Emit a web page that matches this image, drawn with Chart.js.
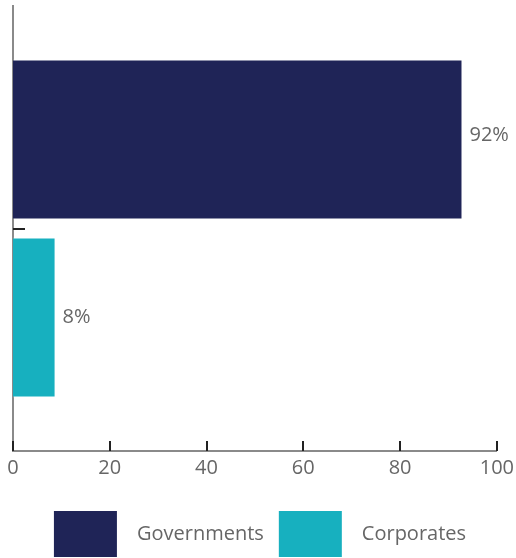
<!DOCTYPE html>
<html>
<head>
<meta charset="utf-8">
<script src="https://cdn.jsdelivr.net/npm/chart.js@4/dist/chart.umd.min.js"></script>
<style>
  html, body { margin: 0; padding: 0; background: #fff; }
  #wrap { width: 516px; height: 558px; }
</style>
</head>
<body>
<div id="wrap"><canvas id="chart"></canvas></div>
<script>
'use strict';

// данные
const categories = [''];
const seriesNames = ['Governments', 'Corporates'];
const seriesValues = [[92.9], [8.8]];
const valueLabels = ['92%', '8%'];
const seriesColors = ['#1f2457', '#17b0bf'];
const xTicks = [0, 20, 40, 60, 80, 100];

const FONT = "'Open Sans', 'Noto Sans', sans-serif";

// подписи значений справа от столбцов
const valueLabelPlugin = {
    id: 'valueLabels',
    afterDatasetsDraw(chart){
        const ctx = chart.ctx;
        const dy = [-4, 0];
        ctx.save();
        ctx.font = '20px ' + FONT;
        ctx.fillStyle = '#666666';
        ctx.textBaseline = 'middle';
        ctx.textAlign = 'left';
        chart.data.datasets.forEach((ds, i) => {
            const bar = chart.getDatasetMeta(i).data[0];
            ctx.fillText(valueLabels[i], bar.x + 7, bar.y + dy[i]);
        });
        ctx.restore();
    }
};

// риски внутрь области графика
const innerTicksPlugin = {
    id: 'innerTicks',
    beforeDraw(chart){
        // сдвиг легенды чуть вправо
        if (chart.legend && !chart.legend._shifted){
            chart.legend.left += 5;
            chart.legend.right += 5;
            chart.legend._shifted = true;
        }
    },
    afterDraw(chart){
        const ctx = chart.ctx;
        const xs = chart.scales.x;
        const ys = chart.scales.y;
        ctx.save();
        ctx.strokeStyle = '#222222';
        ctx.lineWidth = 2;
        ctx.beginPath();
        xTicks.forEach(v => {
            const px = Math.round(xs.getPixelForValue(v));
            ctx.moveTo(px, ys.bottom);
            ctx.lineTo(px, ys.bottom - 10);
        });
        const py = Math.round(ys.getPixelForValue(0));
        ctx.moveTo(xs.left, py);
        ctx.lineTo(xs.left + 12, py);
        ctx.stroke();
        ctx.restore();
    }
};

const datasets = seriesNames.map((name, i) => ({
    label: name,
    data: seriesValues[i],
    backgroundColor: seriesColors[i],
    borderColor: 'rgba(255,255,255,0.35)',
    borderWidth: 1,
    categoryPercentage: 0.8,
    barPercentage: 0.9
}));

const ctx = document.getElementById('chart').getContext('2d');
new Chart(ctx, {
    type: 'bar',
    data: {
        labels: categories,
        datasets: datasets
    },
    options: {
        indexAxis: 'y',
        responsive: true,
        maintainAspectRatio: false,
        animation: false,
        layout: {
            padding: { left: 13, right: 19, top: 6, bottom: -9 }
        },
        scales: {
            x: {
                min: 0,
                max: 100,
                afterBuildTicks(scale){
                    scale.ticks = xTicks.map(v => ({ value: v }));
                },
                afterFit(scale){
                    scale.height = 45;
                },
                grid: { display: false, drawTicks: true, tickLength: 3 },
                border: { display: true, color: '#8a8a8a', width: 2 },
                ticks: {
                    color: '#666666',
                    font: { family: FONT, size: 20 },
                    padding: 2
                }
            },
            y: {
                grid: { display: false, drawTicks: false },
                border: { display: true, color: '#8a8a8a', width: 2 },
                ticks: { display: false }
            }
        },
        plugins: {
            legend: {
                position: 'bottom',
                labels: {
                    boxWidth: 63,
                    boxHeight: 46,
                    padding: 15,
                    color: '#666666',
                    font: { family: FONT, size: 20 },
                    generateLabels(chart){
                        const items = Chart.defaults.plugins.legend.labels.generateLabels(chart);
                        items.forEach(it => { it.text = '\u2002' + it.text; it.lineWidth = 0; });
                        return items;
                    }
                }
            },
            tooltip: { enabled: false }
        }
    },
    plugins: [valueLabelPlugin, innerTicksPlugin]
});
</script>
</body>
</html>
